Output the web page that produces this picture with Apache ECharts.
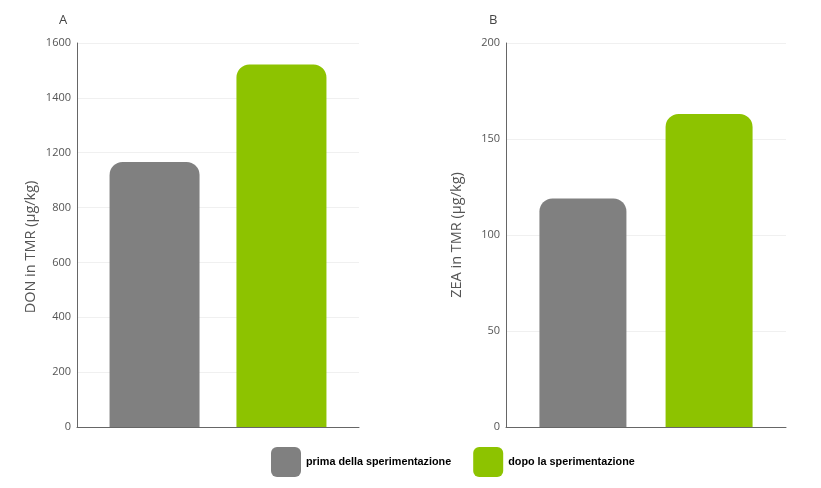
<!DOCTYPE html>
<html>
<head>
<meta charset="utf-8">
<script src="https://cdn.jsdelivr.net/npm/echarts@6/dist/echarts.min.js"></script>
<style>
    html, body { margin: 0; padding: 0; background: #fff; }
    #chart { width: 821px; height: 488px; }
</style>
</head>
<body>
<div id="chart"></div>
<script>
// data
var seriesNames = ['prima della sperimentazione', 'dopo la sperimentazione'];
var donValues = [966, 1322];          // panel A, on the evenly spaced 200-step scale
var zeaValues = [119, 163];           // panel B
// panel A tick labels as printed (the source skips 1000)
var donTickLabels = ['0', '200', '400', '600', '800', '1200', '1400', '1600'];

var GRAY = '#808080';
var GREEN = '#8dc300';
var FONT = '"Open Sans", sans-serif';

var chart = echarts.init(document.getElementById('chart'));

var yAxisBase = function (name, gap) {
    return {
        type: 'value',
        name: name,
        nameLocation: 'middle',
        nameGap: gap,
        nameTextStyle: { color: '#555', fontSize: 14.5, fontFamily: FONT },
        axisLine: { show: true, lineStyle: { color: '#666', width: 1 } },
        axisTick: { show: false },
        axisLabel: { color: '#555', fontSize: 11, fontFamily: FONT, margin: 6 },
        splitLine: { lineStyle: { color: '#f0f0f0' } }
    };
};

var yA = yAxisBase('DON in TMR (µg/kg)', 39);
yA.gridIndex = 0;
yA.min = 0;
yA.max = 1400;
yA.interval = 200;
yA.nameTextStyle.padding = [0, 24, 0, 0];   // name sits a bit lower than the middle
yA.axisLabel.formatter = function (v) {
    return donTickLabels[Math.round(v / 200)];
};

var yB = yAxisBase('ZEA in TMR (µg/kg)', 42);
yB.gridIndex = 1;
yB.min = 0;
yB.max = 200;
yB.interval = 50;

var xAxisBase = function (idx) {
    return {
        type: 'category',
        gridIndex: idx,
        data: [''],
        axisLine: { lineStyle: { color: '#666', width: 1 } },
        axisTick: { show: false },
        axisLabel: { show: false }
    };
};

var barSeries = function (name, color, value, idx, width, gap) {
    return {
        type: 'bar',
        name: name,
        xAxisIndex: idx,
        yAxisIndex: idx,
        data: [value],
        barWidth: width,
        barGap: gap,
        itemStyle: { color: color, borderRadius: [13, 13, 0, 0] }
    };
};

var option = {
    animation: false,
    textStyle: { fontFamily: FONT },
    title: [
        { text: 'A', left: 54, top: 9, textStyle: { fontSize: 13, fontWeight: 'normal', color: '#444' } },
        { text: 'B', left: 484, top: 9, textStyle: { fontSize: 13, fontWeight: 'normal', color: '#444' } }
    ],
    legend: {
        data: seriesNames,
        left: 266,
        top: 442,
        itemWidth: 30,
        itemHeight: 30,
        itemGap: 22,
        icon: 'path://M6,0 H24 A6,6 0 0 1 30,6 V24 A6,6 0 0 1 24,30 H6 A6,6 0 0 1 0,24 V6 A6,6 0 0 1 6,0 Z',
        textStyle: { fontFamily: '"Liberation Sans", Arial, sans-serif', fontSize: 10.8, fontWeight: 'bold', color: '#000' }
    },
    grid: [
        { left: 77, right: 462, top: 43, bottom: 61 },
        { left: 506, right: 35, top: 43, bottom: 61 }
    ],
    xAxis: [xAxisBase(0), xAxisBase(1)],
    yAxis: [yA, yB],
    series: [
        barSeries(seriesNames[0], GRAY, donValues[0], 0, 90, '41%'),
        barSeries(seriesNames[1], GREEN, donValues[1], 0, 90, '41%'),
        barSeries(seriesNames[0], GRAY, zeaValues[0], 1, 87, '45%'),
        barSeries(seriesNames[1], GREEN, zeaValues[1], 1, 87, '45%')
    ]
};

chart.setOption(option);
</script>
</body>
</html>
